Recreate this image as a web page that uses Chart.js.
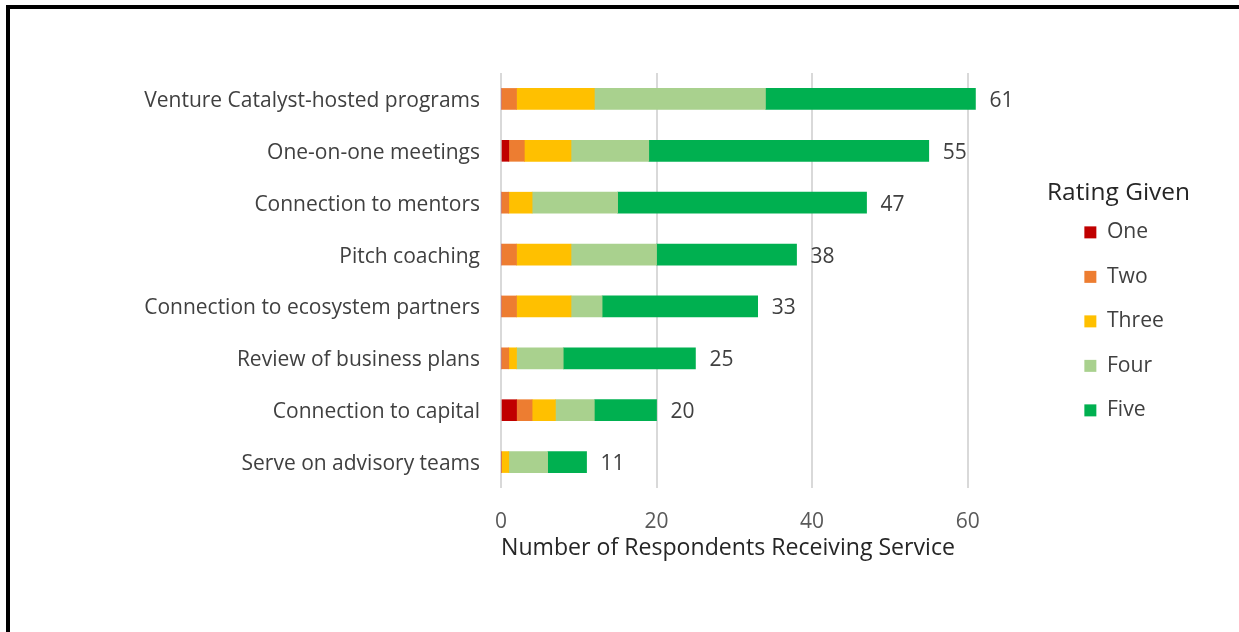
<!DOCTYPE html>
<html>
<head>
<meta charset="utf-8">
<script src="https://cdn.jsdelivr.net/npm/chart.js@4"></script>
<style>
  html, body { margin: 0; padding: 0; background: #ffffff; }
  #wrap { position: absolute; left: 0; top: 0; width: 1239px; height: 632px; }
  #frame { position: absolute; left: 6px; top: 5px; width: 1233px; height: 627px;
           border-top: 4px solid #000; border-left: 4px solid #000; box-sizing: border-box; pointer-events: none; }
</style>
</head>
<body>
<div id="wrap"><canvas id="c" width="1239" height="632"></canvas></div>
<div id="frame"></div>
<script>
const categories = [
  "Venture Catalyst-hosted programs",
  "One-on-one meetings",
  "Connection to mentors",
  "Pitch coaching",
  "Connection to ecosystem partners",
  "Review of business plans",
  "Connection to capital",
  "Serve on advisory teams"
];
const ratingOne   = [0, 1, 0, 0, 0, 0, 2, 0];
const ratingTwo   = [2, 2, 1, 2, 2, 1, 2, 0];
const ratingThree = [10, 6, 3, 7, 7, 1, 3, 1];
const ratingFour  = [22, 10, 11, 11, 4, 6, 5, 5];
const ratingFive  = [27, 36, 32, 18, 20, 17, 8, 5];
const seriesNames = ["One", "Two", "Three", "Four", "Five"];
const seriesColors = ["#C00000", "#ED7D31", "#FFC000", "#A9D18E", "#00B050"];
const xTickValues = [0, 20, 40, 60];
const xTitle = "Number of Respondents Receiving Service";
const legendTitle = "Rating Given";

const FONT = "'Open Sans', 'Noto Sans', sans-serif";

// choose font sizes so that text widths match the reference
const mctx = document.createElement('canvas').getContext('2d');
function fitSize(text, target) {
  mctx.font = "100px " + FONT;
  return +(100 * target / mctx.measureText(text).width).toFixed(2);
}
const labelSize = fitSize(categories[0], 336);
const titleSize = fitSize(xTitle, 454);
const legTitleSize = fitSize(legendTitle, 143);
const legLabelSize = fitSize("Three", 57);
const legItemPitch = 44.5;

const totalsPlugin = {
  id: 'totals',
  beforeLayout(chart) {
    const lg = chart.legend;
    if (lg && !lg._patched) {
      lg._patched = true;
      const origFit = lg.fit;
      lg.fit = function () { origFit.call(this); this.width = 115; };
      const origDraw = lg.draw;
      lg.draw = function () {
        const ctx = this.ctx; const clip = ctx.clip;
        ctx.clip = function () {};
        origDraw.apply(this, arguments);
        ctx.clip = clip;
      };
    }
  },
  afterDatasetsDraw(chart) {
    const ctx = chart.ctx;
    const lastMeta = chart.getDatasetMeta(chart.data.datasets.length - 1);
    ctx.save();
    ctx.font = labelSize + "px " + FONT;
    ctx.fillStyle = "#404040";
    ctx.textAlign = "left";
    ctx.textBaseline = "middle";
    categories.forEach((c, i) => {
      let total = 0;
      chart.data.datasets.forEach(ds => total += ds.data[i]);
      const bar = lastMeta.data[i];
      ctx.fillText(String(total), bar.x + 14, bar.y + 2);
    });
    ctx.restore();
  }
};

const datasets = [ratingOne, ratingTwo, ratingThree, ratingFour, ratingFive].map((arr, k) => ({
  label: seriesNames[k],
  data: arr,
  backgroundColor: seriesColors[k],
  borderWidth: 0,
  barThickness: 21
}));

new Chart(document.getElementById('c'), {
  type: 'bar',
  data: { labels: categories, datasets },
  plugins: [totalsPlugin],
  options: {
    indexAxis: 'y',
    responsive: false,
    animation: false,
    layout: { padding: { top: 73, left: 0, right: 63, bottom: 0 } },
    plugins: {
      tooltip: { enabled: false },
      legend: {
        position: 'right',
        align: 'start',
        title: { display: true, text: legendTitle, color: '#262626',
                 font: { family: FONT, size: legTitleSize, lineHeight: 1 },
                 padding: { top: 108, bottom: -7 } },
        labels: { boxWidth: 12, boxHeight: 12, padding: legItemPitch - legLabelSize, color: '#404040',
                  font: { family: FONT, size: legLabelSize } }
      }
    },
    scales: {
      x: {
        stacked: true,
        min: 0, max: 72,
        afterBuildTicks(s) { s.ticks = xTickValues.map(v => ({ value: v })); },
        afterFit(s) { s.height = 144; },
        grid: { color: '#d9d9d9', lineWidth: 2, drawTicks: false },
        border: { display: false },
        ticks: { color: '#595959', padding: 21, font: { family: FONT, size: labelSize } },
        title: { display: true, text: xTitle, color: '#262626', align: 'start',
                 font: { family: FONT, size: titleSize }, padding: { top: 0, bottom: 70 } }
      },
      y: {
        stacked: true,
        afterFit(s) { s.width = 501; },
        grid: { display: false, drawTicks: false },
        border: { display: false },
        ticks: { color: '#404040', padding: 21, labelOffset: 2, font: { family: FONT, size: labelSize } }
      }
    }
  }
});
</script>
</body>
</html>
